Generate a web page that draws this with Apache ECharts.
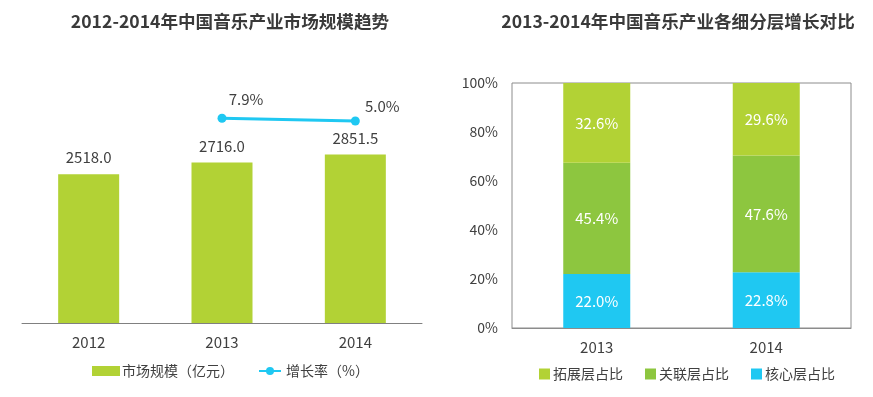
<!DOCTYPE html>
<html>
<head>
<meta charset="utf-8">
<script src="https://cdn.jsdelivr.net/npm/echarts@6/dist/echarts.min.js"></script>
<style>html,body{margin:0;padding:0;background:#fff;}#c{width:873px;height:397px;}</style>
</head>
<body>
<div id="c"></div>
<script>
var leftYears = ['2012', '2013', '2014'];
var marketSize = [2518.0, 2716.0, 2851.5];
var growthRate = ['-', 7.9, 5.0];
var rightYears = ['2013', '2014'];
var coreShare = [22.0, 22.8];
var relatedShare = [45.4, 47.6];
var extendShare = [32.6, 29.6];
var pctTicks = ['0%', '20%', '40%', '60%', '80%', '100%'];

var FONT = '"Noto Sans CJK SC", "Noto Sans", sans-serif';
var TXT = '#404040';
var C_YG = '#b2d235';
var C_G = '#8dc63f';
var C_C = '#1fc8f2';

var chart = echarts.init(document.getElementById('c'));
chart.setOption({
  backgroundColor: '#fff',
  textStyle: { fontFamily: FONT, color: TXT },
  animation: false,
  title: [
    { text: '2012-2014年中国音乐产业市场规模趋势', left: 225, top: 8, textAlign: 'center',
      textStyle: { fontFamily: FONT, fontSize: 17.6, fontWeight: 'bold', color: '#3a3a3a' } },
    { text: '2013-2014年中国音乐产业各细分层增长对比', left: 673, top: 8, textAlign: 'center',
      textStyle: { fontFamily: FONT, fontSize: 17.6, fontWeight: 'bold', color: '#3a3a3a' } }
  ],
  legend: [
    { data: ['市场规模（亿元）'], left: 87, top: 359, itemWidth: 28, itemHeight: 10, itemGap: 4,
      textStyle: { fontFamily: FONT, fontSize: 14, color: TXT, padding: [0,0,0,-3] }, icon: 'rect' },
    { data: ['增长率（%）'], left: 253, top: 359, itemWidth: 22, itemHeight: 10,
      textStyle: { fontFamily: FONT, fontSize: 14, color: TXT } },
    { data: ['拓展层占比', '关联层占比', '核心层占比'], left: 534, top: 362, itemWidth: 11, itemHeight: 11, itemGap: 22,
      icon: 'rect', textStyle: { fontFamily: FONT, fontSize: 14, color: TXT, padding: [0,0,0,-2] } }
  ],
  grid: [
    { left: 22, right: 451, top: 57, bottom: 74 },
    { left: 512, right: 22, top: 83, bottom: 69, show: true, borderColor: '#8c8c8c', borderWidth: 1 }
  ],
  xAxis: [
    { type: 'category', gridIndex: 0, data: leftYears,
      axisLine: { lineStyle: { color: '#808080', width: 1 } }, axisTick: { show: false },
      axisLabel: { color: TXT, fontSize: 15, margin: 12 } },
    { type: 'category', gridIndex: 1, data: rightYears,
      axisLine: { lineStyle: { color: '#8c8c8c', width: 1 } }, axisTick: { show: false },
      axisLabel: { color: TXT, fontSize: 15, margin: 12 } }
  ],
  yAxis: [
    { type: 'value', gridIndex: 0, min: 0, max: 4500, show: false, splitLine: { show: false } },
    { type: 'value', gridIndex: 0, min: -212, max: 73.7, show: false, splitLine: { show: false } },
    { type: 'value', gridIndex: 1, min: 0, max: 100, interval: 20,
      axisLine: { show: false }, axisTick: { show: false }, splitLine: { show: false },
      axisLabel: { color: TXT, fontSize: 14, margin: 14,
        formatter: function (v) { return pctTicks[Math.round(v / 20)]; } } }
  ],
  series: [
    { name: '市场规模（亿元）', type: 'bar', xAxisIndex: 0, yAxisIndex: 0, data: marketSize,
      barWidth: 61, itemStyle: { color: C_YG },
      label: { show: true, position: 'top', distance: 9, color: TXT, fontSize: 15,
        formatter: function (p) { return p.value.toFixed(1); } } },
    { name: '增长率（%）', type: 'line', xAxisIndex: 0, yAxisIndex: 1, data: growthRate,
      symbol: 'circle', symbolSize: 9, lineStyle: { color: C_C, width: 3 }, itemStyle: { color: C_C },
      label: { show: true, position: 'top', color: TXT, fontSize: 15,
        formatter: function (p) { return p.value.toFixed(1) + '%'; } },
      labelLayout: function (p) {
        return p.dataIndex === 1 ? { dx: 24, dy: -2 } : { dx: 27, dy: 2 };
      } },
    { name: '核心层占比', type: 'bar', stack: 's', xAxisIndex: 1, yAxisIndex: 2, data: coreShare,
      barWidth: 67, itemStyle: { color: C_C },
      label: { show: true, position: 'inside', color: '#fff', fontSize: 15,
        formatter: function (p) { return p.value.toFixed(1) + '%'; } } },
    { name: '关联层占比', type: 'bar', stack: 's', xAxisIndex: 1, yAxisIndex: 2, data: relatedShare,
      barWidth: 67, itemStyle: { color: C_G },
      label: { show: true, position: 'inside', color: '#fff', fontSize: 15,
        formatter: function (p) { return p.value.toFixed(1) + '%'; } } },
    { name: '拓展层占比', type: 'bar', stack: 's', xAxisIndex: 1, yAxisIndex: 2, data: extendShare,
      barWidth: 67, itemStyle: { color: C_YG },
      label: { show: true, position: 'inside', color: '#fff', fontSize: 15,
        formatter: function (p) { return p.value.toFixed(1) + '%'; } } }
  ]
});
</script>
</body>
</html>
